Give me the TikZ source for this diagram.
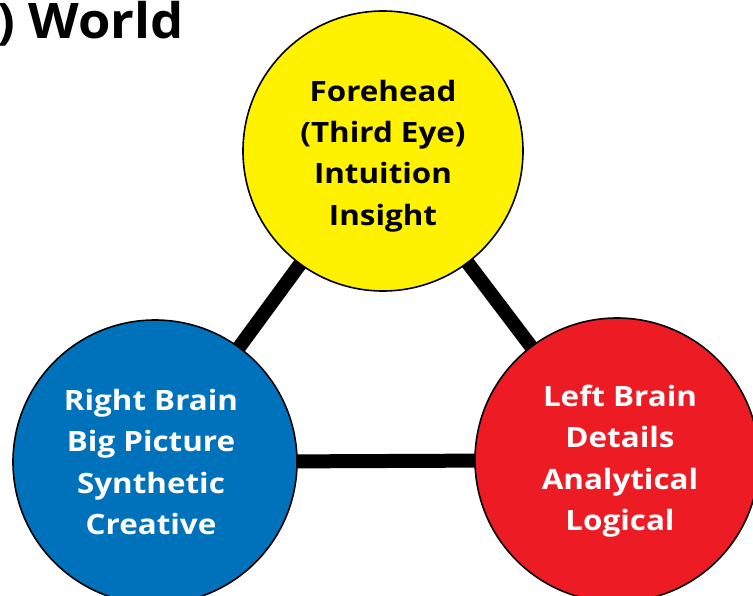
\documentclass[tikz,border=0pt]{standalone}
\usepackage{fontspec}
\setmainfont{Open Sans}
\newfontfamily\wideb[FakeStretch=1.12]{Open Sans}
\newfontfamily\widet[FakeStretch=1.07]{Open Sans}
\usetikzlibrary{backgrounds}
\definecolor{cyel}{HTML}{FFF200}
\definecolor{cblue}{HTML}{0072BC}
\definecolor{cred}{HTML}{ED1C24}
\tikzset{
  ball/.style={circle, draw=black, line width=1.6pt, inner sep=0pt},
  ballt/.style={align=center, inner sep=0pt, font=\wideb\bfseries\fontsize{28}{41.3}\selectfont},
  link/.style={line width=14pt, draw=black}
}
\begin{document}
\begin{tikzpicture}[x=1pt,y=-1pt]
\useasboundingbox (0,0) rectangle (753,595);
\begin{scope}
\clip (0,0) rectangle (753,595);
\node[anchor=base east, font=\widet\bfseries\fontsize{49}{60}\selectfont, inner sep=0pt] (title) at (184,38) {) World};
\node[ball, fill=cyel, minimum size=280pt] (top) at (383,151) {};
\node[ball, fill=cblue, minimum size=284pt] (right) at (155,462) {};
\node[ball, fill=cred, minimum size=284pt] (left) at (617,460) {};
\node[ballt, text=black] (toptext) at (383,156) {Forehead\\(Third Eye)\\Intuition\\Insight};
\node[ballt, text=white] (righttext) at (151,462) {Right Brain\\Big Picture\\Synthetic\\Creative};
\node[ballt, text=white] (lefttext) at (620,461) {Left Brain\\Details\\Analytical\\Logical};
\begin{pgfonlayer}{background}
\draw[link] (top.center) -- (right.center);
\draw[link] (top.center) -- (left.center);
\draw[link] (right.center) -- (left.center);
\end{pgfonlayer}
\end{scope}
\end{tikzpicture}
\end{document}
